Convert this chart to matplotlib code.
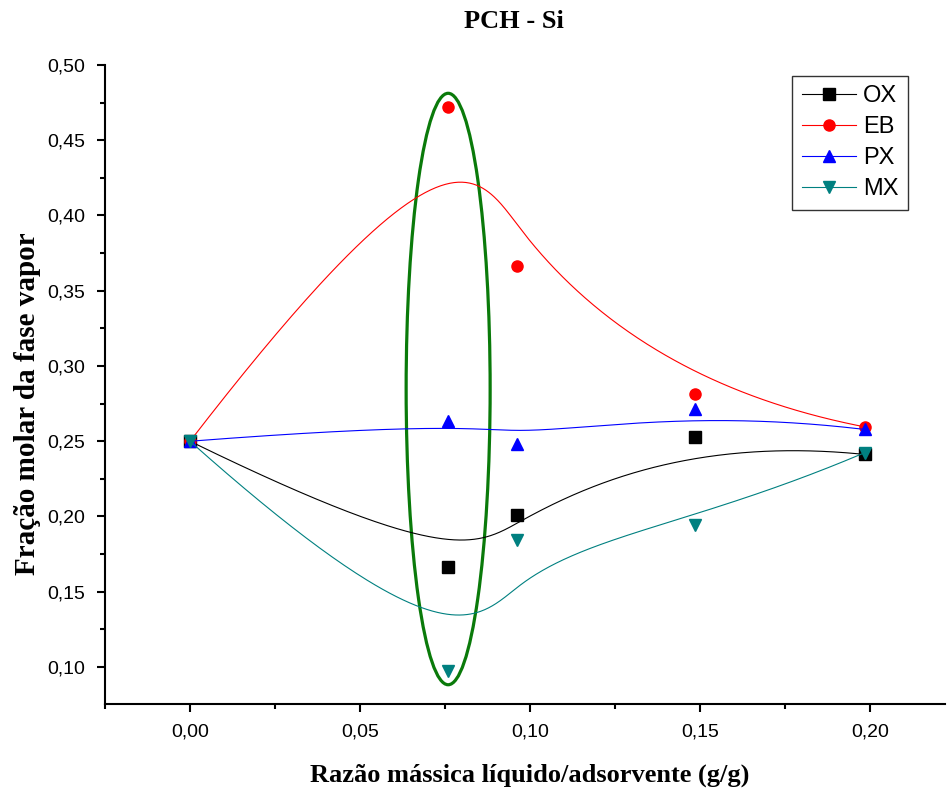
import numpy as np
import matplotlib.pyplot as plt
from matplotlib.patches import Ellipse
from matplotlib.ticker import MultipleLocator, FuncFormatter

# razão mássica (g/g)
x = [0.0, 0.0759, 0.0962, 0.1485, 0.1985]

ox = [0.250, 0.1664, 0.2012, 0.2528, 0.2412]
eb = [0.250, 0.4722, 0.3664, 0.2814, 0.2595]
px = [0.250, 0.2632, 0.2480, 0.2714, 0.2578]
mx = [0.250, 0.0973, 0.1844, 0.1945, 0.2425]

labels = ["OX", "EB", "PX", "MX"]
colors = ["black", "red", "blue", "#008080"]
markers = ["s", "o", "^", "v"]


def bspline(px_, py_, n=400, k=3, u=0.4):
    # clamped cubic B-spline with the data points as control points
    P = np.column_stack([px_, py_])
    m = len(P)
    knots = np.array([0, 0, 0, 0, u, 1, 1, 1, 1.0])
    t = np.linspace(0, 1 - 1e-10, n)

    def N(i, p, tt):
        if p == 0:
            return np.where((knots[i] <= tt) & (tt < knots[i + 1]), 1.0, 0.0)
        a = 0.0
        b = 0.0
        d1 = knots[i + p] - knots[i]
        d2 = knots[i + p + 1] - knots[i + 1]
        if d1 > 0:
            a = (tt - knots[i]) / d1 * N(i, p - 1, tt)
        if d2 > 0:
            b = (knots[i + p + 1] - tt) / d2 * N(i + 1, p - 1, tt)
        return a + b

    B = np.array([N(i, k, t) for i in range(m)])
    curve = B.T @ P
    return curve[:, 0], curve[:, 1]


fig = plt.figure(figsize=(9.48, 7.93), dpi=100)
ax = fig.add_axes([105 / 948, 89 / 793, 840 / 948, 639 / 793])

for ys, lab, c, mk in zip([ox, eb, px, mx], labels, colors, markers):
    cx, cy = bspline(x, ys)
    ax.plot(cx, cy, color=c, lw=0.8)
    ax.plot(x, ys, linestyle="none", marker=mk, color=c, markersize=8)
    ax.plot([], [], color=c, lw=0.8, marker=mk, markersize=8, label=lab)

ell = Ellipse((0.0759, 0.2847), 0.0247, 0.393, fill=False,
              edgecolor="#0a7a0a", lw=2.3)
ax.add_patch(ell)

ax.set_xlim(-0.025, 0.222)
ax.set_ylim(0.0754, 0.50)

ax.xaxis.set_major_locator(MultipleLocator(0.05))
ax.xaxis.set_minor_locator(MultipleLocator(0.025))
ax.yaxis.set_major_locator(MultipleLocator(0.05))
ax.yaxis.set_minor_locator(MultipleLocator(0.025))

fmt = FuncFormatter(lambda v, pos: f"{v:.2f}".replace(".", ","))
ax.xaxis.set_major_formatter(fmt)
ax.yaxis.set_major_formatter(fmt)

ax.spines["top"].set_visible(False)
ax.spines["right"].set_visible(False)
ax.spines["left"].set_linewidth(1.5)
ax.spines["bottom"].set_linewidth(1.5)
ax.tick_params(which="major", direction="out", length=6, width=1.5,
               labelsize=14, pad=8)
ax.tick_params(which="minor", direction="out", length=3.5, width=1.5)
for lbl in ax.get_xticklabels() + ax.get_yticklabels():
    lbl.set_family("Liberation Sans")

leg = ax.legend(loc="upper right", bbox_to_anchor=((908 - 105) / 840, 1 - 11 / 639),
                bbox_transform=ax.transAxes, prop={"family": "Liberation Sans", "size": 17},
                frameon=True, fancybox=False, edgecolor="black", handlelength=2.3,
                borderpad=0.4, labelspacing=0.38, handletextpad=0.3,
                borderaxespad=0)
leg.get_frame().set_linewidth(1.0)

fig.text(514 / 948, 1 - 22 / 793, "PCH - Si", ha="center", va="center",
         family="Liberation Serif", fontweight="bold", fontsize=19)
fig.text(530 / 948, 1 - 775 / 793, "Razão mássica líquido/adsorvente (g/g)",
         ha="center", va="center", family="Liberation Serif",
         fontweight="bold", fontsize=19)
fig.text(28 / 948, 1 - 404 / 793, "Fração molar da fase vapor", ha="center",
         va="center", rotation=90, family="Liberation Serif",
         fontweight="bold", fontsize=21)

fig.savefig("out.png", dpi=100)
